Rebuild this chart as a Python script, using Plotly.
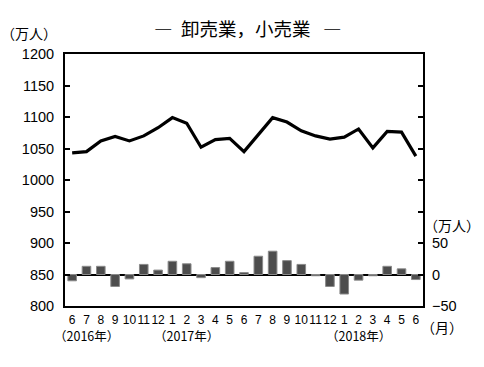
import plotly.graph_objects as go

months = ["6","7","8","9","10","11","12","1","2","3","4","5","6","7","8","9","10","11","12","1","2","3","4","5","6"]
employed = [1043,1045,1062,1069,1062,1070,1083,1099,1090,1052,1064,1066,1045,1073,1099,1092,1078,1070,1065,1068,1081,1051,1077,1076,1038]
change = [-10,13,13,-19,-7,16,7,21,17,-5,11,21,3,29,37,22,16,-2,-19,-31,-9,-2,13,9,-8]
year_labels = ["（2016年）", "（2017年）", "（2018年）"]
year_pos = [1, 8, 20]

x = list(range(len(months)))
FONT = "Noto Sans CJK JP"

fig = go.Figure()
fig.add_trace(go.Bar(x=x, y=change, yaxis="y2", width=0.6,
                     marker=dict(color="#4d4d4d", line=dict(color="#8a8a8a", width=1))))
fig.add_trace(go.Scatter(x=x, y=employed, yaxis="y", mode="lines",
                         line=dict(color="black", width=3.2)))

fig.update_layout(
    width=484, height=367,
    margin=dict(l=65, r=61, t=54, b=61),
    paper_bgcolor="white", plot_bgcolor="white",
    showlegend=False,
    font=dict(family=FONT, color="black", size=14),
    xaxis=dict(range=[-0.5, 24.5], tickvals=x, ticktext=months, tickangle=0,
               showline=True, mirror=True, linecolor="black", linewidth=2,
               ticks="", showgrid=False, tickfont=dict(size=12, family="Liberation Sans"),
               ticklabelstandoff=2),
    yaxis=dict(range=[800, 1200], tickvals=list(range(800, 1201, 50)),
               showline=True, mirror="allticks", linecolor="black", linewidth=2,
               ticks="inside", ticklen=5, tickwidth=1.5, tickcolor="black",
               showgrid=False, zeroline=False, ticklabelstandoff=6,
               tickfont=dict(size=14.5, family="Liberation Sans")),
    yaxis2=dict(range=[-50, 350], overlaying="y", side="right",
                tickvals=[-50, 0, 50], ticktext=["−50", "0", "50"],
                ticks="", showgrid=False, zeroline=True, zerolinecolor="black",
                zerolinewidth=1.5, showline=False, ticklabelstandoff=8,
                tickfont=dict(size=14.5, family="Liberation Sans")),
    bargap=0.4,
)

annotations = [
    dict(text="卸売業，小売業", x=246, y=28, font=dict(size=18.5)),
    dict(text="―", x=163, y=28, font=dict(size=18.5)),
    dict(text="―", x=332, y=28, font=dict(size=18.5)),
    dict(text="（万人）", x=29, y=33, font=dict(size=14)),
    dict(text="（万人）", x=452, y=225, font=dict(size=14)),
    dict(text="（月）", x=442, y=327, font=dict(size=14)),
]
for a in annotations:
    fig.add_annotation(text=a["text"], xref="paper", yref="paper",
                       x=(a["x"] - 65) / 358,
                       y=(306 - a["y"]) / 252, showarrow=False,
                       xanchor="center", yanchor="middle", font=a["font"])
for lbl, p in zip(year_labels, year_pos):
    fig.add_annotation(text=lbl, x=p, xref="x", y=(306 - 335) / 252, yref="paper",
                       showarrow=False, xanchor="center", yanchor="middle",
                       font=dict(size=12.5))

fig.write_html("out.html", config={"displayModeBar": False},
               post_script="document.body.style.margin='0';document.body.style.overflow='hidden';")
